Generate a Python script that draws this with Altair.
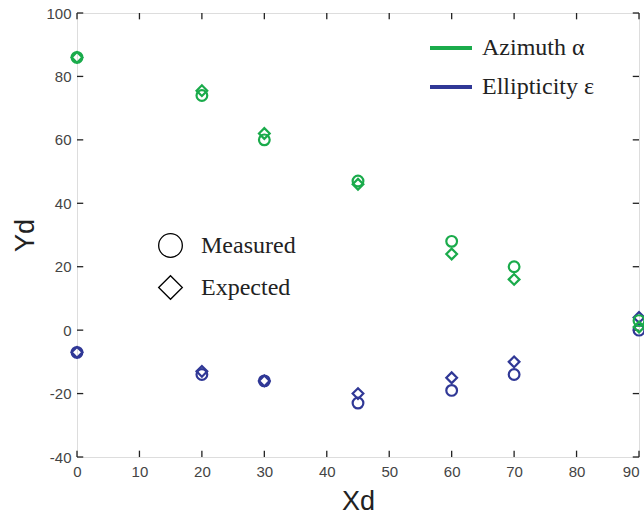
import altair as alt
import pandas as pd

x_vals = [0, 20, 30, 45, 60, 70, 90]
az_measured = [86, 74, 60, 47, 28, 20, 3]
az_expected = [86, 75.5, 62, 46, 24, 16, 1]
el_measured = [-7, -14, -16, -23, -19, -14, 0]
el_expected = [-7, -13, -16, -20, -15, -10, 4]

quantities = ["Azimuth α", "Ellipticity ε"]
kinds = ["Measured", "Expected"]
colors = ["#1aab4b", "#303896"]

x_ticks = [0, 10, 20, 30, 40, 50, 60, 70, 80, 90]
y_ticks = [-40, -20, 0, 20, 40, 60, 80, 100]

rows = []
for q, meas, exp in [("Ellipticity ε", el_measured, el_expected),
                     ("Azimuth α", az_measured, az_expected)]:
    for xv, m, e in zip(x_vals, meas, exp):
        rows.append({"x": xv, "y": m, "q": q, "kind": "Measured"})
        rows.append({"x": xv, "y": e, "q": q, "kind": "Expected"})
df = pd.DataFrame(rows)

xscale = alt.Scale(domain=[0, 90], nice=False, zero=False)
yscale = alt.Scale(domain=[-40, 100], nice=False, zero=False)

xaxis = alt.Axis(values=x_ticks, ticks=False, domain=False, grid=False,
                 labelFlush=False, labelExpr="'' + datum.value",
                 labelAlign=alt.condition("datum.value == 90", alt.value("right"), alt.value("center")),
                 labelFont="Liberation Sans", labelFontSize=15, labelColor="#444",
                 labelPadding=7, title="Xd", titleFont="Liberation Sans",
                 titleFontSize=27, titleFontWeight="normal", titleColor="#222",
                 titlePadding=9)
yaxis = alt.Axis(values=y_ticks, ticks=False, domain=False, grid=False,
                 labelFlush=False, labelExpr="'' + datum.value",
                 labelFont="Liberation Sans", labelFontSize=15, labelColor="#444",
                 labelPadding=6, title="Yd", titleFont="Liberation Sans",
                 titleFontSize=27, titleFontWeight="normal", titleColor="#222",
                 titlePadding=6)

points = alt.Chart(df).mark_point(filled=False, strokeWidth=2.2, size=115, opacity=1).encode(
    x=alt.X("x:Q", scale=xscale, axis=xaxis),
    y=alt.Y("y:Q", scale=yscale, axis=yaxis),
    color=alt.Color("q:N", scale=alt.Scale(domain=quantities, range=colors),
                    legend=alt.Legend(orient="none", legendX=351, legendY=12, title=None,
                                      symbolType="stroke", symbolSize=1764,
                                      symbolStrokeWidth=4, labelFont="Liberation Serif",
                                      labelFontSize=24, labelColor="#222", labelOffset=8,
                                      rowPadding=4, padding=0)),
    shape=alt.Shape("kind:N", scale=alt.Scale(domain=kinds, range=["circle", "diamond"]),
                    legend=alt.Legend(orient="none", legendX=81, legendY=220, title=None,
                                      symbolSize=560, symbolStrokeColor="black",
                                      symbolFillColor="transparent", symbolStrokeWidth=1.3,
                                      labelFont="Liberation Serif", labelFontSize=24,
                                      labelColor="#222", labelOffset=18, rowPadding=13,
                                      padding=0)),
)

tick_color = "#222"
xt = pd.DataFrame({"t": x_ticks})
yt = pd.DataFrame({"t": y_ticks})

bottom = alt.Chart(xt).mark_rule(color=tick_color, strokeWidth=1.3).encode(
    x=alt.X("t:Q", scale=xscale), y=alt.datum(-40, scale=yscale), y2=alt.datum(-38))
top = alt.Chart(xt).mark_rule(color=tick_color, strokeWidth=1.3).encode(
    x=alt.X("t:Q", scale=xscale), y=alt.datum(100, scale=yscale), y2=alt.datum(98))
left = alt.Chart(yt).mark_rule(color=tick_color, strokeWidth=1.3).encode(
    y=alt.Y("t:Q", scale=yscale), x=alt.datum(0, scale=xscale), x2=alt.datum(1))
right = alt.Chart(yt).mark_rule(color=tick_color, strokeWidth=1.3).encode(
    y=alt.Y("t:Q", scale=yscale), x=alt.datum(90, scale=xscale), x2=alt.datum(89))

chart = alt.layer(bottom, top, left, right, points).properties(
    width=562, height=444,
    autosize=alt.AutoSizeParams(type="none"),
    padding={"left": 77, "top": 13, "right": 5, "bottom": 59},
).configure_view(stroke="#222", strokeWidth=1.5).configure(background="white")

chart.save("out.html", embed_options={"renderer": "svg", "actions": False})
